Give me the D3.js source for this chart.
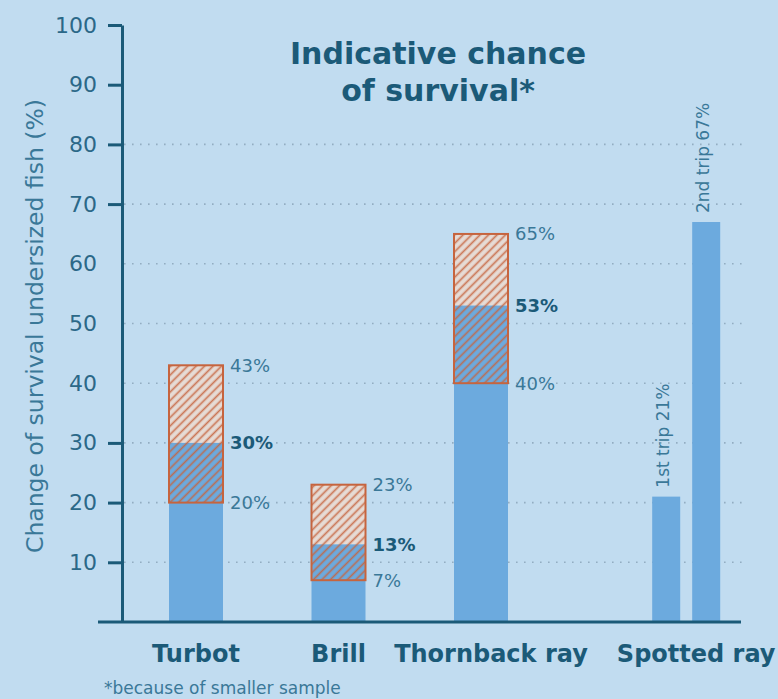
<!DOCTYPE html>
<html>
<head>
<meta charset="utf-8">
<script src="https://cdn.jsdelivr.net/npm/d3@7"></script>
<style>
  body { margin: 0; background: #c1dcf0; }
  svg { display: block; font-family: "DejaVu Sans", Verdana, sans-serif; }
</style>
</head>
<body>
<div id="chart"></div>
<script>
// data
const categories = ["Turbot", "Brill", "Thornback ray"];
const lowValues  = [20, 7, 40];
const midValues  = [30, 13, 53];
const highValues = [43, 23, 65];

const spottedName   = "Spotted ray";
const spottedTrips  = ["1st trip", "2nd trip"];
const spottedValues = [21, 67];

const yTicks    = [10, 20, 30, 40, 50, 60, 70, 80, 90, 100];
const gridTicks = [10, 20, 30, 40, 50, 60, 70, 80];
const noTickMark = [40, 50, 60];

const width = 778, height = 699;
const dark = "#1b5a78", mid = "#3a7898", barBlue = "#6caade", orange = "#c6643e";

const svg = d3.select("#chart").append("svg")
  .attr("width", width)
  .attr("height", height);

svg.append("rect").attr("width", width).attr("height", height).attr("fill", "#c1dcf0");

// hatch pattern
const defs = svg.append("defs");
defs.append("pattern")
  .attr("id", "hatch")
  .attr("patternUnits", "userSpaceOnUse")
  .attr("width", 6).attr("height", 6)
  .attr("patternTransform", "rotate(45)")
  .append("line")
    .attr("x1", 1.5).attr("y1", 0).attr("x2", 1.5).attr("y2", 6)
    .attr("stroke", orange).attr("stroke-width", 1.7).attr("stroke-opacity", 0.85);

const y = d3.scaleLinear().domain([0, 100]).range([622, 25]);

// slot positions: three evenly spaced, spotted ray set a bit further out
const slot = d3.scaleLinear().domain([0, 2]).range([196, 481]);
const centerOf = i => slot(i);
const spottedCenter = slot(3.44);
const barW = 54;

// grid
svg.append("g").selectAll("line")
  .data(gridTicks)
  .join("line")
    .attr("x1", 124).attr("x2", 748)
    .attr("y1", d => y(d)).attr("y2", d => y(d))
    .attr("stroke", "#93adc2")
    .attr("stroke-width", 1.6)
    .attr("stroke-dasharray", "1.6,6.4");

// bars with hatched range
const bars = svg.append("g");
categories.forEach((c, i) => {
  const x0 = centerOf(i) - barW / 2;
  bars.append("rect")
    .attr("x", x0).attr("width", barW)
    .attr("y", y(highValues[i])).attr("height", y(midValues[i]) - y(highValues[i]))
    .attr("fill", "#e6dbd5");
  bars.append("rect")
    .attr("x", x0).attr("width", barW)
    .attr("y", y(midValues[i])).attr("height", y(0) - y(midValues[i]))
    .attr("fill", barBlue);
  bars.append("rect")
    .attr("x", x0).attr("width", barW)
    .attr("y", y(highValues[i])).attr("height", y(lowValues[i]) - y(highValues[i]))
    .attr("fill", "url(#hatch)")
    .attr("stroke", orange).attr("stroke-width", 2);

  const lx = x0 + barW + 7;
  bars.append("text").attr("x", lx).attr("y", y(highValues[i])).attr("dy", "0.36em")
    .attr("font-size", 18).attr("fill", mid).text(highValues[i] + "%");
  bars.append("text").attr("x", lx).attr("y", y(midValues[i])).attr("dy", "0.36em")
    .attr("font-size", 18).attr("font-weight", "bold").attr("fill", dark).text(midValues[i] + "%");
  bars.append("text").attr("x", lx).attr("y", y(lowValues[i])).attr("dy", "0.36em")
    .attr("font-size", 18).attr("fill", mid).text(lowValues[i] + "%");
});

// spotted ray, two trips
const xTrip = d3.scaleBand().domain(spottedTrips)
  .range([spottedCenter - 34, spottedCenter + 34]).paddingInner(0.3);

spottedTrips.forEach((t, j) => {
  const bx = xTrip(t);
  bars.append("rect")
    .attr("x", bx).attr("width", xTrip.bandwidth())
    .attr("y", y(spottedValues[j])).attr("height", y(0) - y(spottedValues[j]))
    .attr("fill", barBlue);
  const cx = bx + xTrip.bandwidth() / 2 - 3;
  const ty = y(spottedValues[j]) - 9;
  bars.append("text")
    .attr("transform", `translate(${cx},${ty}) rotate(-90)`)
    .attr("dy", "0.36em")
    .attr("font-size", 17).attr("fill", mid)
    .text(`${t} ${spottedValues[j]}%`);
});

// y axis
const yAxis = svg.append("g")
  .attr("transform", "translate(122,0)")
  .call(d3.axisLeft(y).tickValues(yTicks).tickSize(14).tickPadding(11).tickSizeOuter(0));
yAxis.select(".domain").attr("stroke", dark).attr("stroke-width", 3);
yAxis.selectAll(".tick line").attr("stroke", dark).attr("stroke-width", 3)
  .attr("opacity", d => noTickMark.includes(d) ? 0 : 1);
yAxis.selectAll(".tick text")
  .attr("font-size", 22).attr("fill", "#2b6888")
  .attr("font-family", "DejaVu Sans, Verdana, sans-serif");

// baseline
svg.append("line")
  .attr("x1", 98).attr("x2", 741)
  .attr("y1", y(0)).attr("y2", y(0))
  .attr("stroke", dark).attr("stroke-width", 3);

// category labels
const labelData = categories.map((c, i) => ({ name: c, x: centerOf(i) }))
  .concat([{ name: spottedName, x: spottedCenter }]);
svg.append("g").selectAll("text")
  .data(labelData)
  .join("text")
    .attr("x", d => d.x + (d.name.length > 6 ? 10 : 0))
    .attr("y", 662)
    .attr("text-anchor", "middle")
    .attr("font-size", 24).attr("font-weight", "bold").attr("fill", dark)
    .text(d => d.name);

// title
svg.append("text").attr("x", 438).attr("y", 64).attr("text-anchor", "middle")
  .attr("font-size", 30).attr("font-weight", "bold").attr("fill", dark)
  .text("Indicative chance");
svg.append("text").attr("x", 438).attr("y", 101).attr("text-anchor", "middle")
  .attr("font-size", 30).attr("font-weight", "bold").attr("fill", dark)
  .text("of survival*");

// y label
svg.append("text")
  .attr("transform", "translate(35,326) rotate(-90)")
  .attr("dy", "0.36em")
  .attr("text-anchor", "middle")
  .attr("font-size", 23.5).attr("fill", mid)
  .text("Change of survival undersized fish (%)");

// footnote
svg.append("text").attr("x", 104).attr("y", 694)
  .attr("font-size", 17).attr("fill", mid)
  .text("*because of smaller sample");
</script>
</body>
</html>
